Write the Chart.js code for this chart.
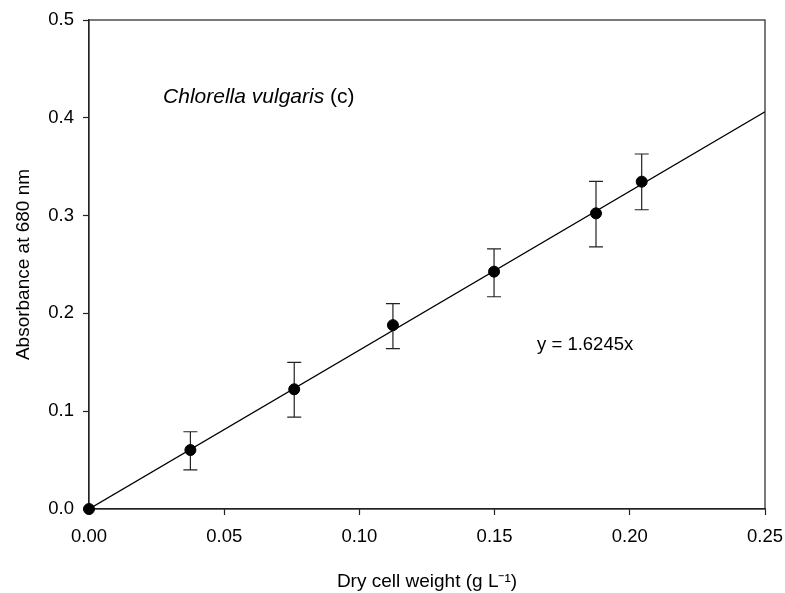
<!DOCTYPE html>
<html>
<head>
<meta charset="utf-8">
<script src="https://cdn.jsdelivr.net/npm/chart.js@4.4.1/dist/chart.umd.min.js"></script>
<style>
  html, body { margin: 0; padding: 0; background: #fff; }
  #wrap { width: 785px; height: 593px; }
</style>
</head>
<body>
<div id="wrap"><canvas id="grafico" width="785" height="593"></canvas></div>
<script>
// dati
const pesoSecco = [0, 0.0375, 0.0759, 0.1124, 0.1498, 0.1875, 0.2044];
const assorbanza = [0, 0.0603, 0.1224, 0.188, 0.2427, 0.3023, 0.3347];
const erroreSup = [null, 0.079, 0.150, 0.210, 0.266, 0.335, 0.363];
const erroreInf = [null, 0.040, 0.094, 0.164, 0.217, 0.268, 0.306];
const pendenza = 1.6245;
const rangeX = [0, 0.25];
const xTicks = [0, 0.05, 0.10, 0.15, 0.20, 0.25];
const yTicks = [0, 0.1, 0.2, 0.3, 0.4, 0.5];

const FONT = "Arial, 'Liberation Sans', Helvetica, sans-serif";

const punti = pesoSecco.map((x, i) => ({ x, y: assorbanza[i] }));
const retta = rangeX.map(x => ({ x, y: pendenza * x }));

const barreErrore = {
  id: "barreErrore",
  beforeDatasetsDraw(chart) {
    const { ctx, scales: { x, y } } = chart;
    ctx.save();
    ctx.strokeStyle = "#222";
    ctx.lineWidth = 1.2;
    pesoSecco.forEach((v, i) => {
      if (erroreSup[i] == null) return;
      const px = x.getPixelForValue(v);
      const top = y.getPixelForValue(erroreSup[i]);
      const bot = y.getPixelForValue(erroreInf[i]);
      ctx.beginPath();
      ctx.moveTo(px, top); ctx.lineTo(px, bot);
      ctx.moveTo(px - 7, top); ctx.lineTo(px + 7, top);
      ctx.moveTo(px - 7, bot); ctx.lineTo(px + 7, bot);
      ctx.stroke();
    });
    ctx.restore();
  }
};

const cornice = {
  id: "cornice",
  beforeDatasetsDraw(chart) {
    const { ctx, chartArea: a } = chart;
    ctx.save();
    ctx.strokeStyle = "#222";
    ctx.lineWidth = 1.2;
    ctx.strokeRect(a.left, a.top, a.right - a.left, a.bottom - a.top);
    ctx.restore();
  },
  afterDraw(chart) {
    const { ctx, scales: { x, y } } = chart;
    ctx.save();
    // etichette nel grafico
    ctx.fillStyle = "#000";
    ctx.textBaseline = "alphabetic";
    ctx.textAlign = "left";
    let tx = x.getPixelForValue(0.0274);
    const ty = y.getPixelForValue(0.4155);
    ctx.font = "italic 21px " + FONT;
    const corsivo = "Chlorella vulgaris";
    ctx.fillText(corsivo, tx, ty);
    tx += ctx.measureText(corsivo + " ").width;
    ctx.font = "21px " + FONT;
    ctx.fillText("(c)", tx, ty);

    ctx.font = "18.5px " + FONT;
    ctx.textBaseline = "middle";
    ctx.fillText("y = " + pendenza + "x", x.getPixelForValue(0.1657), y.getPixelForValue(0.1677));
    ctx.restore();
  }
};

new Chart(document.getElementById("grafico"), {
  data: {
    datasets: [
      {
        type: "scatter",
        data: punti,
        backgroundColor: "#000",
        borderColor: "#000",
        pointRadius: 5.5,
        clip: false,
        order: 1
      },
      {
        type: "line",
        data: retta,
        borderColor: "#000",
        borderWidth: 1.3,
        pointRadius: 0,
        fill: false,
        order: 2
      }
    ]
  },
  options: {
    responsive: false,
    animation: false,
    layout: { padding: { left: 0, right: 20, top: 20, bottom: 0 } },
    plugins: { legend: { display: false }, tooltip: { enabled: false } },
    scales: {
      x: {
        type: "linear",
        min: rangeX[0],
        max: rangeX[1],
        afterBuildTicks: s => { s.ticks = xTicks.map(v => ({ value: v })); },
        afterFit: s => { s.height = 84; s.paddingLeft = 0; s.paddingRight = 0; },
        ticks: {
          color: "#000",
          padding: 11,
          font: { size: 18.5, family: FONT },
          callback: v => v.toFixed(2)
        },
        grid: { drawOnChartArea: false, tickLength: 6, tickColor: "#222", tickWidth: 1.2 },
        border: { color: "#222", width: 1.2 },
        title: {
          display: true,
          text: "Dry cell weight (g L\u207B\u00B9)",
          color: "#000",
          font: { size: 19, family: FONT },
          padding: { top: 0, bottom: 0 }
        }
      },
      y: {
        type: "linear",
        min: 0,
        max: 0.5,
        afterBuildTicks: s => { s.ticks = yTicks.map(v => ({ value: v })); },
        afterFit: s => { s.width = 89; s.paddingTop = 0; s.paddingBottom = 0; },
        ticks: {
          color: "#000",
          padding: 9,
          font: { size: 18.5, family: FONT },
          callback: v => v.toFixed(1)
        },
        grid: { drawOnChartArea: false, tickLength: 6, tickColor: "#222", tickWidth: 1.2 },
        border: { color: "#222", width: 1.2 },
        title: {
          display: true,
          text: "Absorbance at 680 nm",
          color: "#000",
          font: { size: 19, family: FONT },
          padding: { top: 12, bottom: 0 }
        }
      }
    }
  },
  plugins: [barreErrore, cornice]
});
</script>
</body>
</html>
